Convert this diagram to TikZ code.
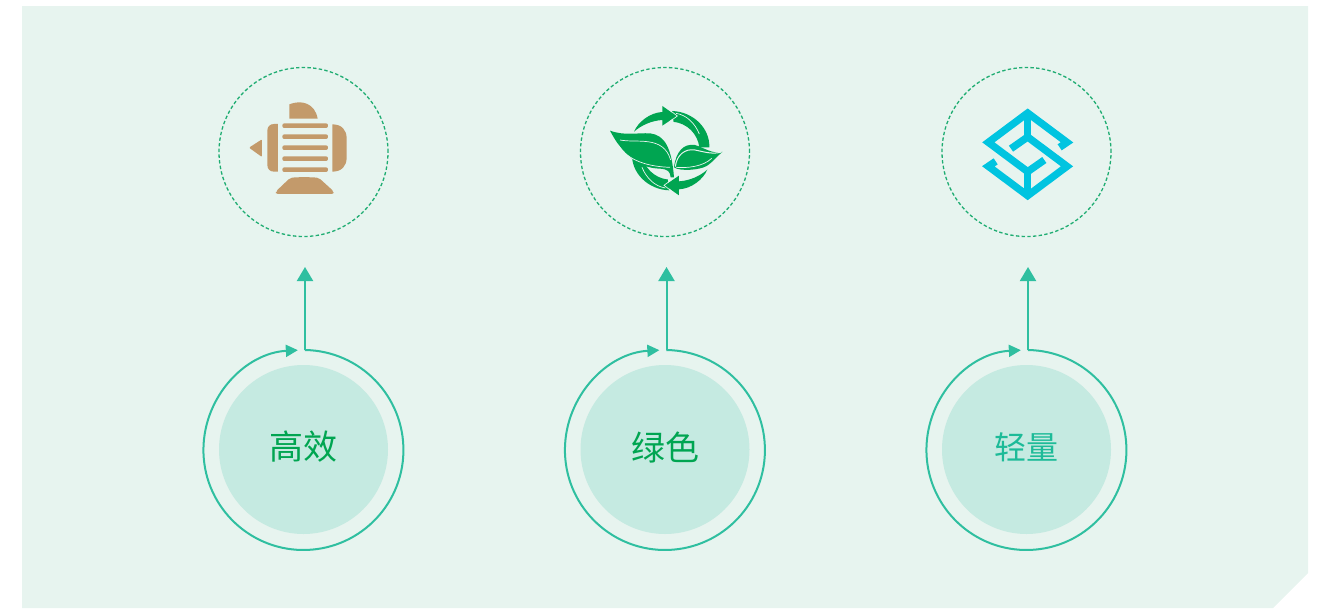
\documentclass[tikz,border=0pt]{standalone}
\usepackage{fontspec}
\setmainfont{Noto Sans CJK SC}
\usetikzlibrary{arrows.meta}
\definecolor{bgpanel}{HTML}{E7F4EF}
\definecolor{disc}{HTML}{C5EAE1}
\definecolor{teal}{HTML}{2FBFA0}
\definecolor{dashgreen}{HTML}{1FAD72}
\definecolor{leaf}{HTML}{00A551}
\definecolor{motor}{HTML}{C39A6B}
\definecolor{logo}{HTML}{00C4E0}
\definecolor{lighttext}{HTML}{1DBB98}
\tikzset{
  discnode/.style={circle,fill=disc,minimum size=169pt,inner sep=0pt},
  textnode/.style={inner sep=0pt},
  dashnode/.style={circle,draw=dashgreen,line width=1.3pt,dash pattern=on 3.4pt off 2.3pt,minimum size=169pt,inner sep=0pt},
  connector/.style={draw=teal,line width=2pt},
  uptip/.style={-{Triangle[width=16pt,length=14pt,fill=teal]}},
  roundtip/.style={-{Triangle[width=12pt,length=12pt,fill=teal]}},
  zoomed/.style={x=0.3333pt,y=-0.3333pt},
  logostroke/.style={draw=logo,line width=7.3pt,miter limit=10,line cap=butt,line join=miter},
  vein/.style={draw=bgpanel,line width=0.7pt},
}
\begin{document}
\begin{tikzpicture}[x=1pt,y=-1pt]
\useasboundingbox (0,0) rectangle (1322,608);
\fill[bgpanel] (22,6) -- (1308,6) -- (1308,573) -- (1273,608) -- (22,608) -- cycle;

\foreach \i/\cx/\lab/\col/\fs in {1/303.5/高效/leaf/34, 2/665/绿色/leaf/34, 3/1026.5/轻量/lighttext/32}{
  \node[discnode] (disc\i) at (\cx,449.5) {};
  \node[textnode,text=\col] (label\i) at (\cx,447) {\fontsize{\fs}{36}\selectfont\lab};
  \node[dashnode] (halo\i) at (\cx,152) {};
  \coordinate (start\i) at (\cx+1.5,350);
  \coordinate (top\i) at (\cx+1.5,267);
  \draw[connector,uptip] (start\i) -- (top\i);
  \draw[connector,roundtip] (start\i) arc[start angle=-89.1,end angle=266.8,radius=100];
}

% motor icon
\begin{scope}[shift={(210,60)},zoomed]
  \fill[motor] (238,176) -- (238,133) .. controls (275,118) and (315,130) .. (323,176) -- cycle;
  \foreach \yy in {197,230,263,296,329}
    \fill[motor,rounded corners=2pt] (217,\yy-7) rectangle (354,\yy+7);
  \fill[motor] (204,192) -- (192,192) .. controls (180,192) and (172,200) .. (172,212) -- (172,315) .. controls (172,327) and (180,335) .. (192,335) -- (204,335) -- cycle;
  \fill[motor] (367,193) .. controls (395,193) and (410,210) .. (410,235) -- (410,293) .. controls (410,318) and (395,335) .. (367,335) -- cycle;
  \fill[motor,rounded corners=1pt] (117,263) -- (156,238) -- (156,291) -- cycle;
  \fill[motor,rounded corners=2pt] (198,402) -- (198,394) -- (240,354) .. controls (260,351) and (305,351) .. (327,354) -- (371,394) -- (371,402) -- cycle;
\end{scope}

% leaf and recycling icon
\begin{scope}[shift={(570,60)},zoomed]
  \foreach \r in {0,180}{
    \begin{scope}[rotate around={\r:(302,272)}]
      \fill[leaf] (192,215) .. controls (205,185) and (240,158) .. (277,156) -- (277,138) -- (320,168) -- (277,197) -- (277,180) .. controls (245,182) and (215,195) .. (192,215) -- cycle;
      \fill[leaf] (306,153) .. controls (370,155) and (420,205) .. (418,262) -- (388,262) arc[start angle=-6.6,end angle=-84,radius=87] -- cycle;
      \draw[vein] (296,148) -- (322,168) -- (300,184);
      \draw[vein] (318,160) .. controls (350,165) and (375,190) .. (388,222);
    \end{scope}
  }
  \fill[leaf] (120,212) .. controls (165,228) and (200,218) .. (240,220) .. controls (285,225) and (305,265) .. (312,352) -- (302,352) .. controls (300,335) and (295,328) .. (270,326) .. controls (205,325) and (155,280) .. (120,212) -- cycle;
  \draw[vein] (150,240) .. controls (200,250) and (280,225) .. (302,300);
  \draw[vein] (145,255) .. controls (175,305) and (240,320) .. (300,322);
  \fill[leaf] (458,275) .. controls (430,285) and (400,262) .. (375,255) .. controls (340,250) and (318,275) .. (312,322) .. controls (330,335) and (390,330) .. (410,318) .. controls (430,305) and (445,285) .. (458,275) -- cycle;
  \draw[vein,line width=1pt] (316,320) .. controls (320,285) and (345,265) .. (375,270) .. controls (400,275) and (430,285) .. (458,275);
  \draw[vein] (318,322) .. controls (350,325) and (400,320) .. (425,295);
\end{scope}

% S logo
\begin{scope}[shift={(960,90)},zoomed]
  \draw[logostroke] (299,172) -- (321,157) -- (203,69) -- (85,157) -- (203,245) -- (253,210);
  \draw[logostroke] (107,214) -- (85,229) -- (203,317) -- (321,229) -- (203,141) -- (153,176);
  \draw[logostroke] (203,69) -- (203,141);
  \draw[logostroke] (203,245) -- (203,317);
\end{scope}
\end{tikzpicture}
\end{document}
